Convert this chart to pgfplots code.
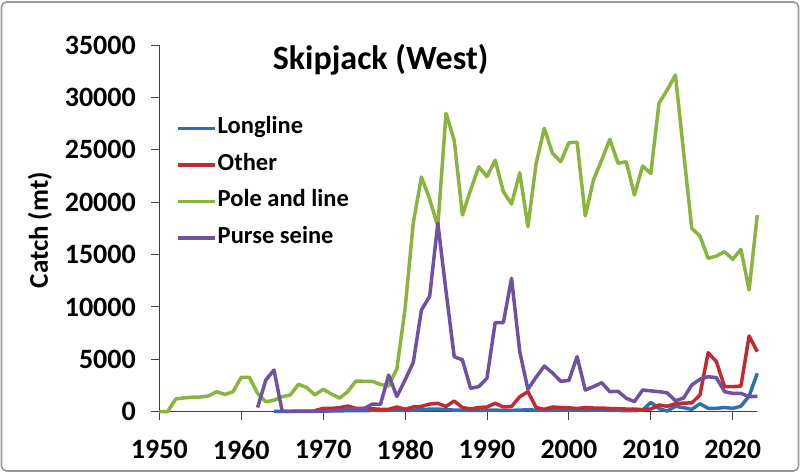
\documentclass[border=0pt]{standalone}
\usepackage{pgfplots}
\pgfplotsset{compat=1.18}
\usepackage{pgfplotstable}
\usepackage{fontspec}
\setmainfont{Carlito}

\definecolor{cLong}{RGB}{47,110,180}
\definecolor{cOther}{RGB}{192,42,48}
\definecolor{cPole}{RGB}{137,180,61}
\definecolor{cPurse}{RGB}{112,80,162}

% catch (mt) by year
\pgfplotstableread{
year catch
1964 30
1965 40
1966 40
1967 50
1968 50
1969 60
1970 60
1971 80
1972 80
1973 100
1974 100
1975 100
1976 120
1977 120
1978 150
1979 150
1980 120
1981 150
1982 180
1983 250
1984 250
1985 200
1986 150
1987 150
1988 120
1989 120
1990 150
1991 150
1992 120
1993 130
1994 150
1995 180
1996 150
1997 120
1998 150
1999 150
2000 150
2001 150
2002 120
2003 150
2004 150
2005 120
2006 120
2007 100
2008 100
2009 150
2010 880
2011 300
2012 60
2013 520
2014 380
2015 220
2016 760
2017 320
2018 320
2019 400
2020 320
2021 520
2022 1500
2023 3660
}\longline

\pgfplotstableread{
year catch
1969 100
1970 320
1971 320
1972 380
1973 540
1974 320
1975 320
1976 280
1977 230
1978 230
1979 450
1980 230
1981 450
1982 500
1983 730
1984 800
1985 500
1986 1020
1987 400
1988 260
1989 400
1990 450
1991 800
1992 450
1993 500
1994 1430
1995 1910
1996 400
1997 230
1998 450
1999 400
2000 370
2001 300
2002 400
2003 350
2004 350
2005 300
2006 300
2007 250
2008 250
2009 200
2010 260
2011 640
2012 520
2013 760
2014 820
2015 840
2016 1600
2017 5630
2018 4780
2019 2390
2020 2390
2021 2450
2022 7230
2023 5730
}\other

\pgfplotstableread{
year catch
1950 0
1951 0
1952 1210
1953 1320
1954 1380
1955 1400
1956 1500
1957 1910
1958 1650
1959 1910
1960 3280
1961 3280
1962 1750
1963 950
1964 1100
1965 1430
1966 1600
1967 2620
1968 2300
1969 1600
1970 2140
1971 1700
1972 1300
1973 1910
1974 2930
1975 2900
1976 2900
1977 2600
1978 2450
1979 4100
1980 9800
1981 17990
1982 22400
1983 20300
1984 17700
1985 28480
1986 25900
1987 18770
1988 21160
1989 23380
1990 22430
1991 24020
1992 21000
1993 19820
1994 22810
1995 17660
1996 23710
1997 27050
1998 24660
1999 23860
2000 25680
2001 25720
2002 18680
2003 22120
2004 24020
2005 26000
2006 23710
2007 23860
2008 20680
2009 23450
2010 22750
2011 29440
2012 30700
2013 32140
2014 24800
2015 17500
2016 16770
2017 14640
2018 14860
2019 15270
2020 14550
2021 15500
2022 11620
2023 18770
}\poleline

\pgfplotstableread{
year catch
1962 400
1963 3020
1964 3980
1965 50
1966 30
1967 30
1968 30
1969 50
1970 50
1971 100
1972 150
1973 300
1974 250
1975 300
1976 730
1977 700
1978 3500
1979 1450
1980 3020
1981 4700
1982 9700
1983 11000
1984 17990
1985 11500
1986 5250
1987 4950
1988 2230
1989 2400
1990 3190
1991 8500
1992 8500
1993 12730
1994 5730
1995 2140
1996 3300
1997 4360
1998 3700
1999 2900
2000 2980
2001 5250
2002 2070
2003 2390
2004 2770
2005 1910
2006 1950
2007 1280
2008 960
2009 2070
2010 1990
2011 1910
2012 1800
2013 1050
2014 1300
2015 2550
2016 3090
2017 3340
2018 3250
2019 1910
2020 1750
2021 1750
2022 1430
2023 1480
}\purseseine

\begin{document}
\begin{tikzpicture}
\useasboundingbox (0pt,0pt) rectangle (800pt,473pt);
\draw[black!40, line width=1.6pt, rounded corners=5pt] (1.5pt,2pt) rectangle (798.5pt,471pt);
\begin{axis}[
    at={(159.3pt,61.3pt)}, anchor=south west,
    scale only axis, width=598pt, height=366.7pt,
    xmin=1950, xmax=2023, ymin=0, ymax=35000,
    clip=false,
    axis x line*=bottom, axis y line*=left,
    axis line style={-, black!75, line width=0.9pt},
    tick style={black!75, line width=0.9pt},
    tick align=outside, major tick length=8pt,
    xtick={1950,1960,...,2020},
    ytick={0,5000,...,35000},
    minor tick num=0,
    scaled y ticks=false,
    /pgf/number format/1000 sep={},
    /pgf/number format/assume math mode=true,
    x tick label style={font=\fontsize{28}{32}\selectfont\bfseries, yshift=-17pt},
    y tick label style={font=\fontsize{28}{32}\selectfont\bfseries, xshift=-12pt},
    ylabel={Catch (mt)},
    ylabel style={font=\fontsize{27}{31}\selectfont\bfseries,
        at={(axis description cs:-0.1995,0.495)}, anchor=center},
    title={Skipjack (West)},
    title style={font=\fontsize{34}{40}\selectfont\bfseries,
        at={(axis description cs:0.37,0.918)}, anchor=base},
    legend style={draw=none, fill=none, inner sep=0pt,
        at={(axis description cs:0.028,0.807)}, anchor=north west,
        font=\fontsize{24.5}{29}\selectfont\bfseries,
        row sep=11.5pt,
        nodes={inner sep=1pt, text height=17pt, text depth=6pt}},
    legend cell align=left,
    legend image code/.code={\draw[#1, line width=3.5pt] (0pt,0pt) -- (37pt,0pt);},
    every axis plot/.append style={line width=3.5pt, line join=round},
]
\addplot[cLong] table[x=year, y=catch] {\longline};
\addlegendentry{Longline}
\addplot[cOther] table[x=year, y=catch] {\other};
\addlegendentry{Other}
\addplot[cPole] table[x=year, y=catch] {\poleline};
\addlegendentry{Pole and line}
\addplot[cPurse] table[x=year, y=catch] {\purseseine};
\addlegendentry{Purse seine}
\end{axis}
\end{tikzpicture}
\end{document}
